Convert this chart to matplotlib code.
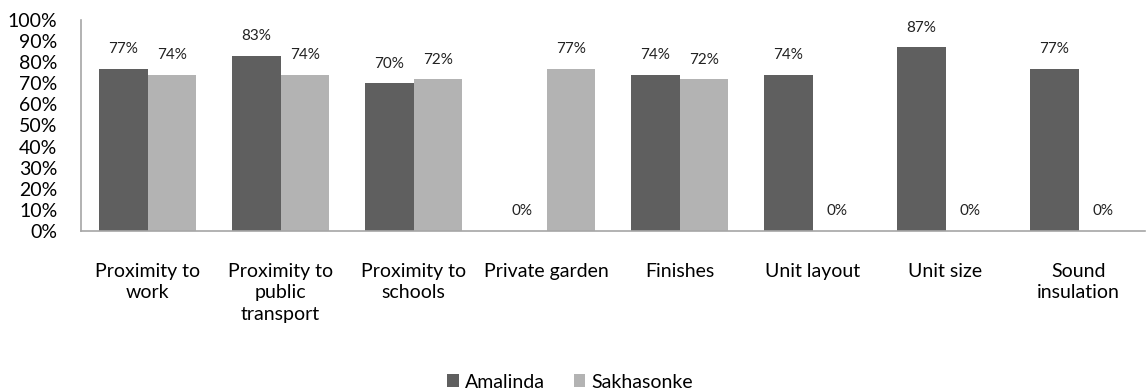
import numpy as np
import matplotlib.pyplot as plt
from matplotlib.ticker import PercentFormatter
from matplotlib.transforms import offset_copy

plt.rcParams['font.family'] = ['Lato', 'DejaVu Sans']

categories = ['Proximity to\nwork', 'Proximity to\npublic\ntransport', 'Proximity to\nschools',
              'Private garden', 'Finishes', 'Unit layout', 'Unit size', 'Sound\ninsulation']
amalinda = [77, 83, 70, 0, 74, 74, 87, 77]
sakhasonke = [74, 74, 72, 77, 72, 0, 0, 0]

fig = plt.figure(figsize=(11.47, 3.91), dpi=100)
ax = fig.add_axes([81/1147, 1 - 231/391, (1145 - 81)/1147, (231 - 20)/391])

x = np.arange(len(categories))
w = 0.365
b1 = ax.bar(x - w/2, amalinda, w, color='#5f5f5f', label='Amalinda')
b2 = ax.bar(x + w/2, sakhasonke, w, color='#b3b3b3', label='Sakhasonke')

tr = offset_copy(ax.transData, fig=fig, x=0, y=9, units='points')
for bars, vals in [(b1, amalinda), (b2, sakhasonke)]:
    for r, v in zip(bars, vals):
        ax.text(r.get_x() + r.get_width()/2, v, f'{v}%', transform=tr,
                ha='center', va='bottom', fontsize=11, color='#222222')

ax.set_xlim(-0.5, len(categories) - 0.5)
ax.set_ylim(0, 100)
ax.set_yticks(np.arange(0, 101, 10))
ax.yaxis.set_major_formatter(PercentFormatter(decimals=0))
ax.set_xticks(x)
ax.set_xticklabels(categories, linespacing=1.32)
ax.tick_params(axis='x', length=0, pad=23, labelsize=14)
ax.tick_params(axis='y', length=0, pad=17, labelsize=14)
for s in ['top', 'right']:
    ax.spines[s].set_visible(False)
for s in ['left', 'bottom']:
    ax.spines[s].set_color('#a6a6a6')
    ax.spines[s].set_linewidth(1.2)

fig.legend(handles=[b1, b2], loc='center', bbox_to_anchor=(570/1147, 1 - 382/391),
           ncol=2, frameon=False, fontsize=14, handlelength=0.6, handleheight=0.6,
           handletextpad=0.3, columnspacing=1.5)

plt.savefig('out.png', dpi=100)
